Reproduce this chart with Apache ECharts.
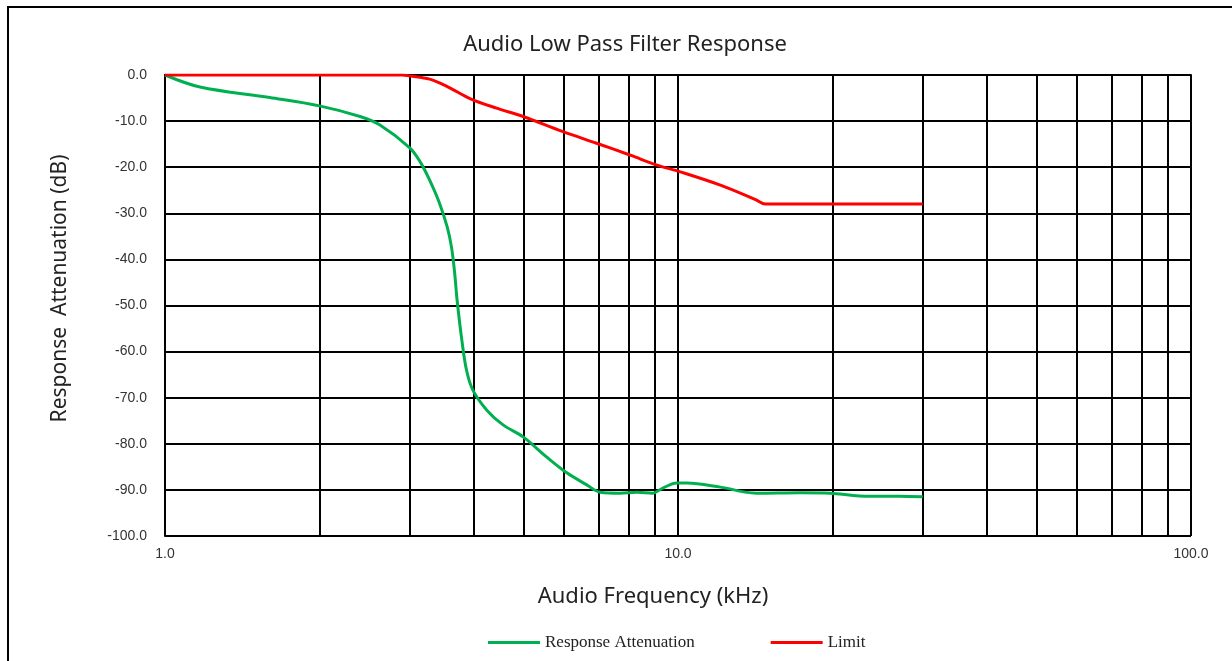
<!DOCTYPE html>
<html>
<head>
<meta charset="utf-8">
<script src="https://cdn.jsdelivr.net/npm/echarts@6/dist/echarts.min.js"></script>
<style>
html,body{margin:0;padding:0;background:#fff;}
#chart{width:1232px;height:661px;}
</style>
</head>
<body>
<div id="chart"></div>
<script>
// Response Attenuation (green)
var respFreq = [1.0, 1.17, 1.6, 2.0, 2.4, 2.62, 3.0, 3.15, 3.28, 3.42, 3.55, 3.62, 3.67, 3.71, 3.79, 3.87, 3.98, 4.24, 4.56, 4.99, 5.55, 6.07, 6.64, 7.05, 7.71, 8.32, 8.93, 9.34, 9.95, 10.4, 12.1, 14.2, 17.3, 19.8, 22.6, 27.0, 30.0];
var respDb   = [0.0, -2.6, -4.9, -6.7, -9.0, -10.8, -15.8, -19.0, -22.8, -27.5, -33.0, -37.5, -43.0, -48.8, -57.5, -64.0, -68.3, -72.7, -75.9, -78.5, -82.9, -86.3, -88.9, -90.5, -90.7, -90.5, -90.7, -89.6, -88.5, -88.5, -89.4, -90.7, -90.6, -90.7, -91.3, -91.4, -91.5];
// Limit (red)
var limitFreq = [1.0, 2.0, 2.9, 3.0, 3.28, 3.55, 3.93, 4.43, 4.99, 5.97, 6.94, 8.08, 9.07, 10.1, 12.1, 14.2, 14.8, 20.0, 30.0];
var limitDb   = [0.0, 0.0, 0.0, -0.2, -0.9, -2.5, -5.1, -7.2, -9.0, -12.3, -14.8, -17.4, -19.5, -21.0, -23.9, -27.1, -28.0, -28.0, -28.0];
// minor vertical grid lines (kHz)
var gridFreqs = [2, 3, 4, 5, 6, 7, 8, 9, 20, 30, 40, 50, 60, 70, 80, 90];

function pairs(xs, ys){ return xs.map(function(x,i){ return [x, ys[i]]; }); }

var chart = echarts.init(document.getElementById('chart'));
chart.setOption({
  animation: false,
  backgroundColor: '#fff',
  title: {
    text: 'Audio Low Pass Filter Response',
    left: 620, top: 29, textAlign: 'center',
    textStyle: {fontFamily: 'Noto Sans', fontWeight: 'normal', fontSize: 22, color: '#222'}
  },
  graphic: [{
    type: 'polyline', silent: true,
    shape: {points: [[8, 661], [8, 7], [1232, 7]]},
    style: {stroke: '#000', lineWidth: 2, fill: null}
  }],
  legend: {
    data: ['Response Attenuation', 'Limit'],
    left: 483, top: 629,
    icon: 'rect', itemWidth: 52, itemHeight: 3, itemGap: 76,
    textStyle: {fontFamily: 'Liberation Serif', fontSize: 17, color: '#222'}
  },
  grid: {left: 165, right: 41, top: 75, bottom: 125, containLabel: false},
  xAxis: {
    type: 'log', logBase: 10, min: 1, max: 100,
    name: 'Audio Frequency (kHz)', nameLocation: 'middle', nameGap: 50,
    nameTextStyle: {fontFamily: 'Noto Sans', fontSize: 22, color: '#222', padding: [0, 50, 0, 0]},
    axisLine: {lineStyle: {color: '#000', width: 2}},
    axisTick: {show: false},
    axisLabel: {margin: 11, fontFamily: 'Liberation Sans', fontSize: 14, color: '#333',
      formatter: function(v){ return Number(v).toFixed(1); }},
    splitLine: {show: true, lineStyle: {color: '#000', width: 2}}
  },
  yAxis: {
    type: 'value', min: -100, max: 0, interval: 10,
    name: 'Response  Attenuation (dB)', nameLocation: 'middle', nameGap: 94, nameRotate: 90,
    nameTextStyle: {fontFamily: 'Noto Sans', fontSize: 21, color: '#222', padding: [0, 0, 0, 34]},
    axisLine: {show: true, lineStyle: {color: '#000', width: 2}},
    axisTick: {show: false},
    axisLabel: {margin: 18, fontFamily: 'Liberation Sans', fontSize: 14, color: '#333',
      formatter: function(v){ return Number(v).toFixed(1); }},
    splitLine: {show: true, lineStyle: {color: '#000', width: 2}}
  },
  series: [
    {
      name: 'gridlines', type: 'line', z: 1, silent: true,
      data: [[1, 0]], symbol: 'none', lineStyle: {opacity: 0},
      markLine: {
        silent: true, symbol: 'none', animation: false,
        label: {show: false},
        lineStyle: {color: '#000', width: 2, type: 'solid'},
        data: gridFreqs.map(function(f){ return {xAxis: f}; })
      }
    },
    {
      name: 'Response Attenuation', type: 'line', z: 5,
      data: pairs(respFreq, respDb), smooth: 0.35, symbol: 'none',
      itemStyle: {color: '#00b050'},
      lineStyle: {color: '#00b050', width: 3}
    },
    {
      name: 'Limit', type: 'line', z: 5,
      data: pairs(limitFreq, limitDb), smooth: 0.35, symbol: 'none',
      itemStyle: {color: '#ff0000'},
      lineStyle: {color: '#ff0000', width: 3}
    }
  ]
});
</script>
</body>
</html>
